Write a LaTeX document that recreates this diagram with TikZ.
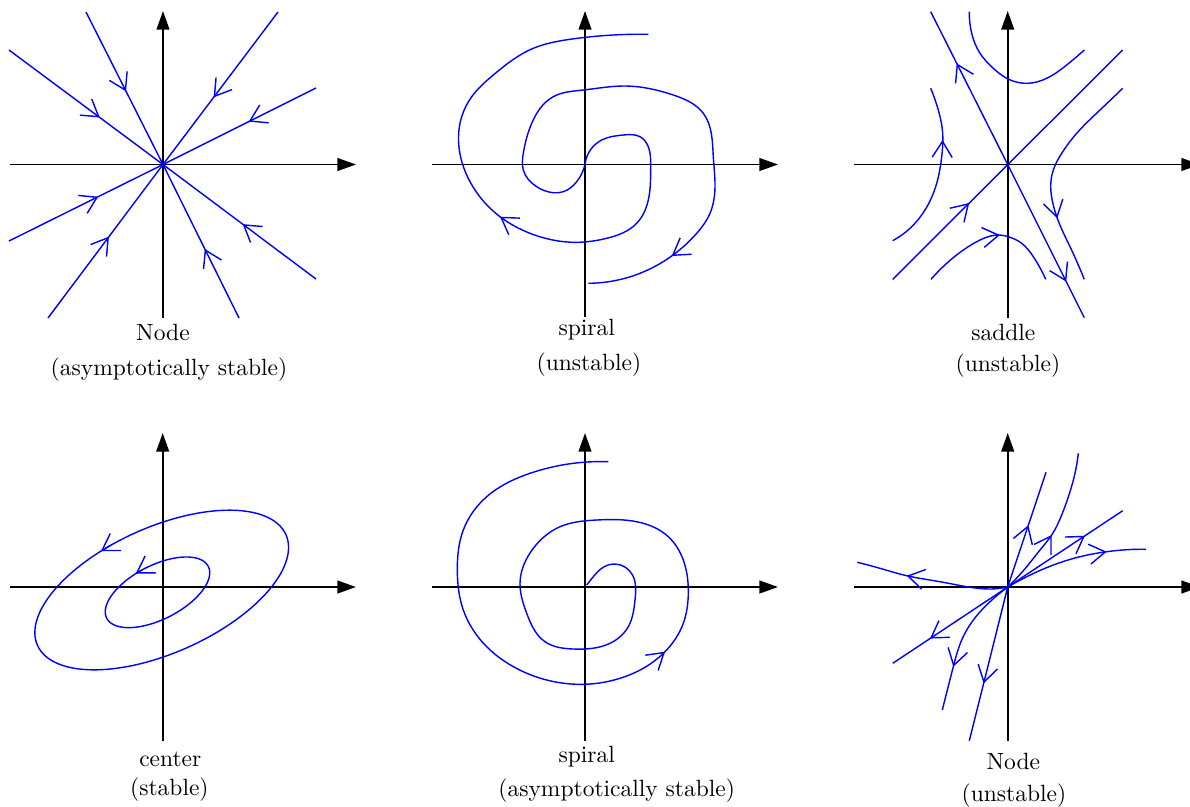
\documentclass[tikz,border=0pt]{standalone}
\usetikzlibrary{arrows.meta,decorations.markings,hobby}
\tikzset{
  mybarb/.tip={Straight Barb[length=6.8pt,width=8.5pt]},
  axis/.style={line width=0.8pt,-{Triangle[length=7.9pt,width=5.4pt]}},
  traj/.style={blue,line width=0.6pt},
  curv/.style={hobby},
  arr/.style={postaction={decorate},decoration={markings,mark=at position #1 with {\arrow{mybarb}}}},
  lbl/.style={anchor=base,inner sep=0pt}
}
% arrow tip on a curve: point, direction of travel (screen angle, y down)
\newcommand{\tipat}[2]{\draw[traj,-{mybarb}] (#1) ++(#2+180:4) -- (#1);}
\begin{document}
\begin{tikzpicture}[x=0.4255pt,y=-0.4255pt]
\useasboundingbox (0,0) rectangle (1190,806);
% origins
\coordinate (o1) at (163,164.5);
\coordinate (o2) at (585,164.5);
\coordinate (o3) at (1007.7,164.5);
\coordinate (o4) at (162.7,587);
\coordinate (o5) at (585,587);
\coordinate (o6) at (1007.7,587);
% axes
\draw[axis] (10,164.5) -- (356,164.5);  \draw[axis] (163,318) -- (163,11);
\draw[axis] (432,164.5) -- (778,164.5); \draw[axis] (585,317) -- (585,11);
\draw[axis] (854,164.5) -- (1200,164.5); \draw[axis] (1007.7,318) -- (1007.7,11);
\draw[axis] (10,587) -- (356,587);  \draw[axis] (162.7,741) -- (162.7,433);
\draw[axis] (432,587) -- (778,587); \draw[axis] (585,741) -- (585,433);
\draw[axis] (854,587) -- (1200,587); \draw[axis] (1007.7,741) -- (1007.7,433);

% ---------- Panel 1: node, asymptotically stable
\draw[traj,arr=0.52] (86,12) -- (o1);
\draw[traj,arr=0.59] (9,50) -- (o1);
\draw[traj,arr=0.56] (278,12) -- (o1);
\draw[traj,arr=0.44] (316,88) -- (o1);
\draw[traj,arr=0.58] (9,241) -- (o1);
\draw[traj,arr=0.53] (48,318) -- (o1);
\draw[traj,arr=0.45] (239,318) -- (o1);
\draw[traj,arr=0.48] (316,279) -- (o1);
\node[lbl] (t1a) at (163,340) {Node};
\node[lbl] (t1b) at (169,375) {(asymptotically stable)};

% ---------- Panel 2: spiral, unstable
\draw[traj] plot[curv] coordinates {(585,164.5) (601.7,140) (623.3,135) (640,136.7) (648.3,146.7) (650.7,166.7) (648.3,200) (636.7,223.3) (606.7,238.3) (576.7,242.3) (530,233.3) (500,216.7) (470,181.7) (461.7,116.7) (471.7,96.7) (493.3,75) (533.3,48.3) (570,39.3) (648.3,34.3)};
\tipat{500,216.7}{214}
\draw[traj] plot[curv] coordinates {(585,164.5) (576.7,181.7) (563.3,191.7) (553.3,192.7) (536.7,186.7) (523.3,170) (523.3,153.3) (531.7,123.3) (553.3,96.7) (583.3,90) (623.3,86) (673.3,95) (703.3,113.3) (713.3,156.7) (715,186.7) (710,213.3) (696.7,233.3) (671.7,256) (640,273.3) (588.3,283.3)};
\tipat{671.7,256}{145}
\node[lbl] (t2a) at (586.7,335) {spiral};
\node[lbl] (t2b) at (589,370) {(unstable)};

% ---------- Panel 3: saddle
\draw[traj,arr=0.663] (o3) -- (930.7,11.7);
\draw[traj,arr=0.765] (o3) -- (1084.3,317.7);
\draw[traj,arr=0.333] (892.7,279.3) -- (1122.7,50);
\draw[traj] plot[curv] coordinates {(969.3,11.7) (971.7,33.3) (980,53.3) (993.3,68.3) (1006.7,78.3) (1028.3,83.3) (1046.7,78.3) (1066.7,65) (1084.3,50)};
\draw[traj] plot[curv] coordinates {(892.7,240.7) (910,228.3) (925,210) (936.7,183.3) (941.7,156.7) (942.7,133.3) (938.3,110) (930.7,88.3)};
\tipat{942.5,140}{271}
\draw[traj] plot[curv] coordinates {(931,279.3) (946.7,263.3) (963.3,250) (980,240) (1000,235) (1008.3,236.7) (1021.7,243.3) (1033.3,256.7) (1045.7,279.3)};
\tipat{1000,235}{352}
\draw[traj] plot[curv] coordinates {(1122.7,88.3) (1100,110) (1076.7,133.3) (1061.7,153.3) (1053.3,170) (1050.7,186.7) (1053.3,205) (1057.3,218.3) (1070,246.7) (1084.3,279.3)};
\tipat{1057.3,218.3}{76}
\node[lbl] (t3a) at (1003.3,340) {saddle};
\node[lbl] (t3b) at (1008,371) {(unstable)};

% ---------- Panel 4: center
\draw[traj] plot[domain=0:360,samples=121,smooth,variable=\t]
  ({161.7+136*cos(\t)*cos(24)-63*sin(\t)*sin(24)},{590-(136*cos(\t)*sin(24)+63*sin(\t)*cos(24))});
\draw[traj,-{mybarb}] plot[domain=102:107,samples=6,smooth,variable=\t]
  ({161.7+136*cos(\t)*cos(24)-63*sin(\t)*sin(24)},{590-(136*cos(\t)*sin(24)+63*sin(\t)*cos(24))});
\draw[traj] plot[domain=0:360,samples=121,smooth,variable=\t]
  ({157.5+57*cos(\t)*cos(27)-27*sin(\t)*sin(27)},{592.3-(57*cos(\t)*sin(27)+27*sin(\t)*cos(27))});
\draw[traj,-{mybarb}] plot[domain=94:101,samples=8,smooth,variable=\t]
  ({157.5+57*cos(\t)*cos(27)-27*sin(\t)*sin(27)},{592.3-(57*cos(\t)*sin(27)+27*sin(\t)*cos(27))});
\node[lbl] (t4a) at (170.3,766.7) {center};
\node[lbl] (t4b) at (169.4,795) {(stable)};

% ---------- Panel 5: spiral, asymptotically stable
\draw[traj] plot[curv] coordinates {(608.3,461.7) (530,473.3) (486.7,496.7) (463.3,530) (457.3,570) (463.3,610) (486.7,646.7) (523.3,671.7) (583.3,684.3) (620,678.3) (665,651.7) (683.3,623.3) (688.3,593.3) (683.3,560) (668.3,536.7) (636.7,521.7) (596.7,520) (560,526.7) (533.3,548.3) (520,583.3) (526.7,613.3) (545,641.7) (573.3,649) (610,643.3) (628.3,626.7) (635,600) (632.5,575) (615,564) (601.7,568.3) (593.3,576.7) (586.7,585)};
\tipat{665,651.7}{320}
\node[lbl] (t5a) at (586.7,762.5) {spiral};
\node[lbl] (t5b) at (616.7,796) {(asymptotically stable)};

% ---------- Panel 6: node, unstable
\draw[traj,arr=0.672] (o6) -- (1122.7,510.7);
\draw[traj,arr=0.676] (o6) -- (892.7,663.3);
\draw[traj,arr=0.539] (o6) -- (1046,472.3);
\draw[traj,arr=0.627] (o6) -- (969.3,740.7);
\draw[traj] plot[curv] coordinates {(1007.7,587) (1026.7,566.7) (1040,550) (1051.7,535) (1061.7,515) (1070,491.7) (1075,473.3) (1078.3,453.3)};
\tipat{1051.7,535}{302}
\draw[traj] plot[curv] coordinates {(1007.7,587) (990,601.7) (973.3,620) (961.7,640) (953.3,666.7) (942.3,710)};
\tipat{953.3,666.7}{105}
\draw[traj] plot[curv] coordinates {(1007.7,587) (1026.7,576.7) (1053.3,565) (1080,556.7) (1106.7,551.7) (1126.7,549.7) (1146,549.3)};
\tipat{1106.7,551.7}{352}
\draw[traj] plot[curv] coordinates {(1007.7,587) (990,589) (966.7,586.7) (940,581.7) (906.7,575.7) (880,568.3) (857.3,562.3)};
\tipat{906.7,575.7}{192}
\node[lbl] (t6a) at (1013.3,769.3) {Node};
\node[lbl] (t6b) at (1014,801.5) {(unstable)};
\end{tikzpicture}
\end{document}
